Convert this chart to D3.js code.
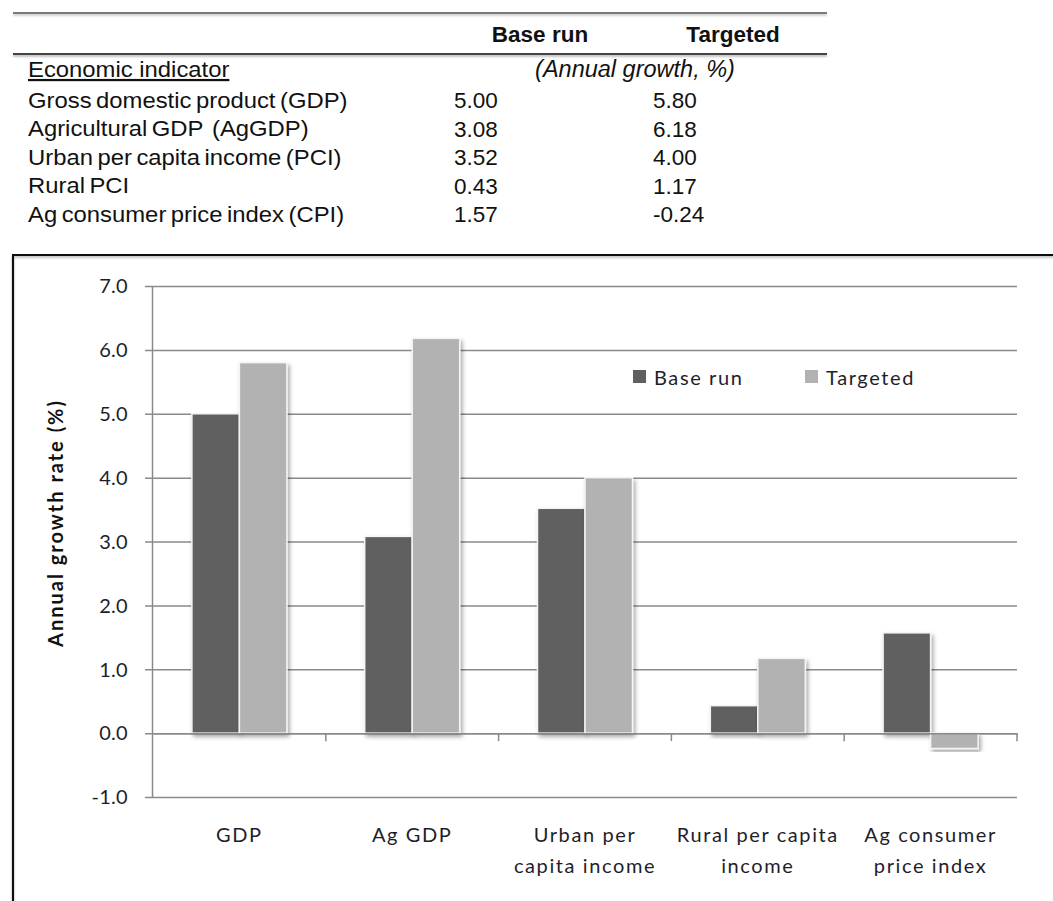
<!DOCTYPE html>
<html>
<head>
<meta charset="utf-8">
<script src="https://cdn.jsdelivr.net/npm/d3@7"></script>
<style>
  html, body { margin: 0; padding: 0; background: #fff; }
  svg { display: block; }
</style>
</head>
<body>
<svg id="chart" width="1053" height="901"></svg>
<script>
// Growth outcomes: base run vs targeted scenario
const categories = ["GDP", "Ag GDP", "Urban per capita income", "Rural per capita income", "Ag consumer price index"];
const categoryLines = [["GDP"], ["Ag GDP"], ["Urban per", "capita income"], ["Rural per capita", "income"], ["Ag consumer", "price index"]];
const seriesNames = ["Base run", "Targeted"];
const baseRun = [5.00, 3.08, 3.52, 0.43, 1.57];
const targeted = [5.80, 6.18, 4.00, 1.17, -0.24];
const indicatorLabels = [
  "Gross domestic product (GDP)",
  "Agricultural GDP  (AgGDP)",
  "Urban per capita income (PCI)",
  "Rural PCI",
  "Ag consumer price index (CPI)"
];
const yTicks = [-1, 0, 1, 2, 3, 4, 5, 6, 7];

const colors = { "Base run": "#606060", "Targeted": "#b2b2b2" };
const seriesValues = { "Base run": baseRun, "Targeted": targeted };

const svg = d3.select("#chart");
const defs = svg.append("defs");
const sh = defs.append("filter").attr("id", "shadow")
  .attr("x", "-20%").attr("y", "-20%").attr("width", "140%").attr("height", "140%");
sh.append("feDropShadow").attr("dx", 2).attr("dy", 3).attr("stdDeviation", 2)
  .attr("flood-color", "#000").attr("flood-opacity", 0.35);
const lineShadow = defs.append("filter").attr("id", "lineShadow")
  .attr("filterUnits", "userSpaceOnUse")
  .attr("x", 0).attr("y", 0).attr("width", 1053).attr("height", 901);
lineShadow.append("feDropShadow").attr("dx", 0).attr("dy", 1.5).attr("stdDeviation", 0.8)
  .attr("flood-color", "#000").attr("flood-opacity", 0.35);

// ---------- summary table ----------
const tFont = "'Liberation Sans', Arial, sans-serif";
const tSize = 22.5;
const table = svg.append("g").attr("font-family", tFont).attr("fill", "#111");

table.append("line").attr("x1", 13).attr("x2", 827).attr("y1", 13).attr("y2", 13)
  .attr("stroke", "#555").attr("stroke-width", 1.5).attr("filter", "url(#lineShadow)");
table.append("line").attr("x1", 13).attr("x2", 827).attr("y1", 54).attr("y2", 54)
  .attr("stroke", "#444").attr("stroke-width", 2).attr("filter", "url(#lineShadow)");

const colX = { "Base run": 540, "Targeted": 733 };
seriesNames.forEach(s => {
  table.append("text").attr("x", colX[s]).attr("y", 42).attr("text-anchor", "middle")
    .attr("font-size", tSize).attr("font-weight", "bold").text(s);
});

// row-label column, drawn slightly wide
const labelCol = table.append("g").attr("transform", "translate(28,0) scale(1.06,1)");
labelCol.append("text").attr("x", 0).attr("y", 77).attr("font-size", tSize)
  .attr("text-decoration", "underline").text("Economic indicator");
table.append("text").attr("x", 635).attr("y", 77).attr("text-anchor", "middle")
  .attr("font-size", 23.5).attr("font-style", "italic")
  .text("(Annual growth, %)");

const rowY = d3.scalePoint().domain(d3.range(indicatorLabels.length)).range([108, 222]);
const valX = { "Base run": 454, "Targeted": 653 };
indicatorLabels.forEach((lab, i) => {
  labelCol.append("text").attr("x", 0).attr("y", rowY(i)).attr("font-size", tSize)
    .attr("word-spacing", "-2px")
    .attr("xml:space", "preserve").style("white-space", "pre").text(lab);
  seriesNames.forEach(s => {
    table.append("text").attr("x", valX[s]).attr("y", rowY(i)).attr("font-size", tSize)
      .text(seriesValues[s][i].toFixed(2));
  });
});

// ---------- chart frame ----------
svg.append("path").attr("d", "M13,905 L13,255 L1060,255")
  .attr("fill", "none").attr("stroke", "#111").attr("stroke-width", 2)
  .attr("filter", "url(#lineShadow)");

// ---------- chart ----------
const cFont = "Lato, 'Open Sans', sans-serif";
const textCol = "#1e1e2a";
const plotLeft = 153, plotRight = 1017, gridLeft = 145;

const y = d3.scaleLinear().domain([-1, 7]).range([797, 286]);
const x0 = d3.scaleBand().domain(categories).range([plotLeft, plotRight]).padding(0);
const groupW = 95;
const x1 = d3.scaleBand().domain(seriesNames).range([0, groupW]).padding(0);

const chart = svg.append("g").attr("font-family", cFont);

// gridlines + tick labels
const yAxis = d3.axisLeft(y).tickValues(yTicks).tickFormat(d => d.toFixed(1))
  .tickSizeInner(-(plotRight - gridLeft)).tickSizeOuter(0).tickPadding(17);
const yg = chart.append("g").attr("transform", `translate(${gridLeft},0)`).call(yAxis);
yg.select(".domain").remove();
yg.selectAll(".tick line").attr("stroke", "#8a8a8a").attr("stroke-width", 1.5);
yg.selectAll(".tick text").attr("font-size", 20).attr("fill", textCol)
  .attr("letter-spacing", "0.3px")
  .attr("font-family", cFont).attr("dy", "0.34em");

// vertical axis line
chart.append("line").attr("x1", plotLeft - 0.5).attr("x2", plotLeft - 0.5)
  .attr("y1", y(7)).attr("y2", y(-1)).attr("stroke", "#8a8a8a").attr("stroke-width", 1.5);

// bars
const barData = [];
categories.forEach((c, i) => {
  seriesNames.forEach(s => barData.push({ cat: c, series: s, value: seriesValues[s][i] }));
});
chart.append("g").selectAll("rect").data(barData).join("rect")
  .attr("x", d => x0(d.cat) + (x0.bandwidth() - groupW) / 2 + x1(d.series))
  .attr("width", x1.bandwidth())
  .attr("y", d => y(Math.max(0, d.value)))
  .attr("height", d => Math.abs(y(d.value) - y(0)))
  .attr("fill", d => colors[d.series])
  .attr("stroke", "#f4f4f4").attr("stroke-width", 1.5)
  .attr("filter", "url(#shadow)");

// category axis on zero line
const xAxis = d3.axisBottom(x0).tickSizeInner(0).tickSizeOuter(0).tickFormat("");
const xg = chart.append("g").attr("transform", `translate(0,${y(0)})`).call(xAxis);
xg.select(".domain").attr("stroke", "#8a8a8a").attr("stroke-width", 1.5);
xg.selectAll(".tick").remove();
chart.append("g").selectAll("line").data(categories).join("line")
  .attr("x1", d => x0(d) + x0.bandwidth()).attr("x2", d => x0(d) + x0.bandwidth())
  .attr("y1", y(0)).attr("y2", y(0) + 8)
  .attr("stroke", "#8a8a8a").attr("stroke-width", 1.5);

// category labels
const labG = chart.append("g").attr("font-size", 20).attr("fill", textCol)
  .attr("letter-spacing", "1.6px").attr("text-anchor", "middle");
categories.forEach((c, i) => {
  const t = labG.append("text").attr("x", x0(c) + x0.bandwidth() / 2).attr("y", 842);
  categoryLines[i].forEach((ln, j) => {
    t.append("tspan").attr("x", x0(c) + x0.bandwidth() / 2).attr("dy", j === 0 ? 0 : 31).text(ln);
  });
});

// y-axis title
chart.append("text")
  .attr("transform", `translate(63,523) rotate(-90)`)
  .attr("text-anchor", "middle").attr("font-size", 20).attr("font-weight", "bold")
  .attr("letter-spacing", "2px")
  .attr("fill", "#111").text("Annual growth rate (%)");

// legend
const legend = chart.append("g");
const legX = { "Base run": 633, "Targeted": 805 };
seriesNames.forEach(s => {
  legend.append("rect").attr("x", legX[s]).attr("y", 370).attr("width", 13).attr("height", 13)
    .attr("fill", colors[s]);
  legend.append("text").attr("x", legX[s] + 21).attr("y", 385).attr("font-size", 20)
    .attr("letter-spacing", "1.6px").attr("fill", textCol).text(s);
});
</script>
</body>
</html>
